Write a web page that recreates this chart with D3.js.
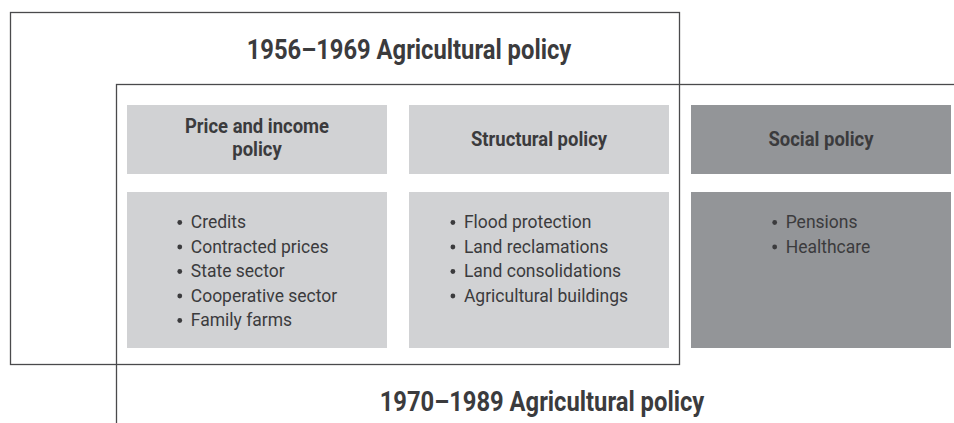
<!DOCTYPE html>
<html>
<head>
    <meta charset="UTF-8">
    <title>Agricultural policy</title>
    <script src="https://d3js.org/d3.v7.min.js"></script>
    <style>
        html, body {
            margin: 0;
            padding: 0;
            background: #fff;
        }

        svg {
            display: block;
        }

        .title, .head {
            font-family: Roboto, "Liberation Sans", sans-serif;
            font-weight: bold;
            fill: #3b3b3d;
        }

        .item {
            font-family: Roboto, "Liberation Sans", sans-serif;
            fill: #3b3b3d;
        }
    </style>
</head>
<body>
<svg id="chart" width="954" height="423"></svg>

<script>
    // 数据
    const periods = ["1956–1969 Agricultural policy", "1970–1989 Agricultural policy"];
    const policies = ["Price and income policy", "Structural policy", "Social policy"];
    const headLines = [["Price and income", "policy"], ["Structural policy"], ["Social policy"]];
    const instruments = [
        ["Credits", "Contracted prices", "State sector", "Cooperative sector", "Family farms"],
        ["Flood protection", "Land reclamations", "Land consolidations", "Agricultural buildings"],
        ["Pensions", "Healthcare"]
    ];
    const shades = ["light", "light", "dark"];

    const color = d3.scaleOrdinal()
        .domain(["light", "dark"])
        .range(["#d1d2d4", "#939598"]);

    const svg = d3.select("#chart");

    // 列的位置
    const x = d3.scaleBand()
        .domain(policies)
        .range([127, 951])
        .paddingInner(22 / 282)
        .paddingOuter(0);

    // 行的位置
    const rows = { head: [105, 174], body: [192, 348] };

    // 窄体效果
    const narrow = 0.88;

    // 两个时期的框
    const frame = svg.append("g")
        .attr("fill", "none")
        .attr("stroke", "#4a4a4c")
        .attr("stroke-width", 1.3);

    frame.append("rect")
        .attr("x", 10.5).attr("y", 12.5)
        .attr("width", 669).attr("height", 352);

    frame.append("rect")
        .attr("x", 116.5).attr("y", 84.5)
        .attr("width", 900).attr("height", 400);

    // 标题
    function title(txt, cx, y) {
        svg.append("text")
            .attr("class", "title")
            .attr("transform", `translate(${cx},${y}) scale(${narrow},1)`)
            .attr("text-anchor", "middle")
            .style("font-size", "27px")
            .text(txt);
    }
    title(periods[0], 409, 59);
    title(periods[1], 542, 411);

    const cols = svg.selectAll(".col")
        .data(policies)
        .join("g")
        .attr("class", "col");

    // 标题框
    cols.append("rect")
        .attr("x", d => x(d))
        .attr("y", rows.head[0])
        .attr("width", x.bandwidth())
        .attr("height", rows.head[1] - rows.head[0])
        .attr("fill", (d, i) => color(shades[i]));

    // 内容框
    cols.append("rect")
        .attr("x", d => x(d))
        .attr("y", rows.body[0])
        .attr("width", x.bandwidth())
        .attr("height", rows.body[1] - rows.body[0])
        .attr("fill", (d, i) => color(shades[i]));

    // 标题文字
    const headSize = 20.5, headLead = 22.5;
    cols.each(function (d, i) {
        const lines = headLines[i];
        const cy = (rows.head[0] + rows.head[1]) / 2;
        const first = cy + 6 - (lines.length - 1) * (headLead / 2 + 1);
        d3.select(this).append("text")
            .attr("class", "head")
            .attr("text-anchor", "middle")
            .attr("transform", `translate(${x(d) + x.bandwidth() / 2},${first}) scale(${narrow + 0.02},1)`)
            .style("font-size", headSize + "px")
            .selectAll("tspan")
            .data(lines)
            .join("tspan")
            .attr("x", 0)
            .attr("y", (l, j) => j * headLead)
            .text(l => l);
    });

    // 列表，整体居中
    const itemSize = 17.5, itemLead = 24.5;
    cols.each(function (d, i) {
        const g = d3.select(this).append("g");
        const y = (l, j) => 228 + j * itemLead;
        const txt = g.selectAll("text")
            .data(instruments[i])
            .join("text")
            .attr("class", "item")
            .style("font-size", itemSize + "px")
            .attr("x", 14)
            .attr("y", y)
            .text(l => l);
        g.selectAll("circle")
            .data(instruments[i])
            .join("circle")
            .attr("cx", 3)
            .attr("cy", (l, j) => y(l, j) - 5.5)
            .attr("r", 2.4)
            .attr("fill", "#3b3b3d");
        const w = 14 + d3.max(txt.nodes(), n => n.getComputedTextLength());
        g.attr("transform", `translate(${x(d) + (x.bandwidth() - w) / 2},0)`);
    });
</script>
</body>
</html>
